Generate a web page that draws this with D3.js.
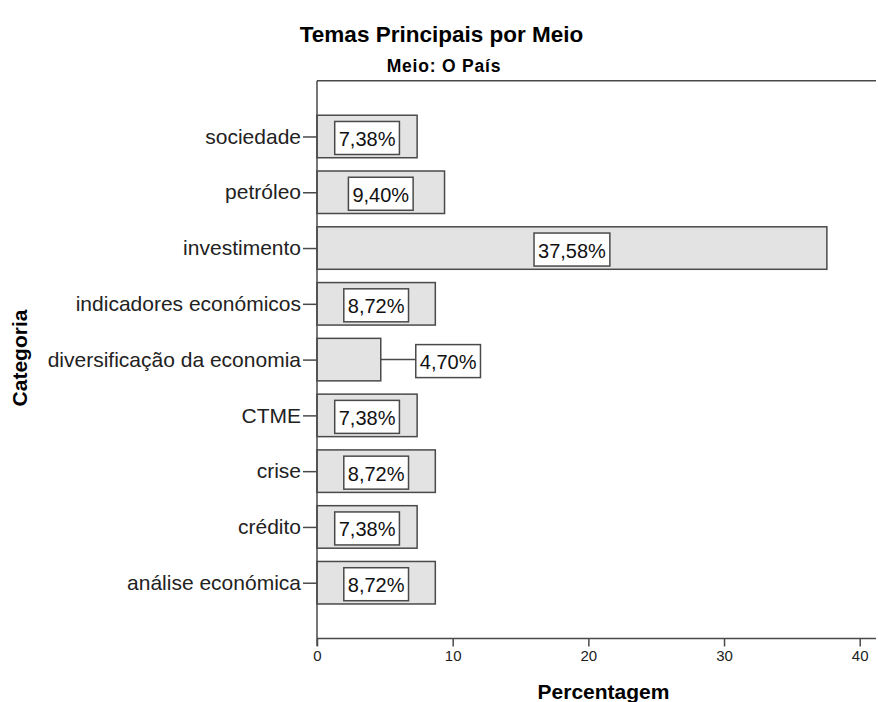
<!DOCTYPE html>
<html><head><meta charset="utf-8">
<script src="https://cdn.jsdelivr.net/npm/d3@7"></script>
<style>body{margin:0;background:#fff}svg{display:block}text{font-family:"Liberation Sans",Arial,sans-serif}</style>
</head><body><svg id="c" width="878" height="702"></svg>
<script>
const categories = ["sociedade","petróleo","investimento","indicadores económicos","diversificação da economia","CTME","crise","crédito","análise económica"];
const values = [7.38, 9.40, 37.58, 8.72, 4.70, 7.38, 8.72, 7.38, 8.72];
const xTicks = [0, 10, 20, 30, 40];
const title = "Temas Principais por Meio";
const subtitle = "Meio: O País";
const xTitle = "Percentagem";
const yTitle = "Categoria";

(function(){
const svg = d3.select("#c");
const pL = 317, pR = 876, pT = 80.7, pB = 638.5;
const x = d3.scaleLinear().domain([0, 41.2]).range([pL, pR]);
const y = d3.scalePoint().domain(categories).range([pT, pB]).padding(1);
const barH = 42.5;
const stroke = "#4a4a4a";

svg.append("text").attr("x", 441.5).attr("y", 41.5).attr("text-anchor","middle")
  .attr("font-size", 22.5).attr("font-weight","bold").attr("fill","#000").text(title);
svg.append("text").attr("x", 444).attr("y", 71.5).attr("text-anchor","middle")
  .attr("font-size", 17.5).attr("font-weight","bold").attr("fill","#000").attr("letter-spacing", 0.8).text(subtitle);

svg.append("line").attr("x1", pL).attr("x2", pR).attr("y1", pT).attr("y2", pT)
  .attr("stroke", stroke).attr("stroke-width", 1.5);

const g = svg.append("g");
categories.forEach((c, i) => {
  const cy = y(c), x0 = x(0), x1 = x(values[i]);
  g.append("rect").attr("x", x0).attr("y", cy - barH/2).attr("width", x1 - x0).attr("height", barH)
    .attr("fill", "#e3e3e3").attr("stroke", stroke).attr("stroke-width", 1.5);
});

const yAxis = d3.axisLeft(y).tickSize(14).tickPadding(2);
const ya = svg.append("g").attr("transform", `translate(${pL},0)`).call(yAxis);
ya.select(".domain").remove();
ya.selectAll(".tick line").attr("stroke", stroke).attr("stroke-width", 1.5);
ya.selectAll(".tick text").attr("font-size", 21).attr("fill", "#222")
  .attr("font-family", '"Liberation Sans",Arial,sans-serif');
svg.append("line").attr("x1", pL).attr("x2", pL).attr("y1", pT).attr("y2", 646)
  .attr("stroke", stroke).attr("stroke-width", 1.5);

const xAxis = d3.axisBottom(x).tickValues(xTicks).tickSize(8).tickPadding(4).tickFormat(d3.format("d"));
const xa = svg.append("g").attr("transform", `translate(0,${pB})`).call(xAxis);
xa.select(".domain").attr("d", `M${pL},0H${pR}`).attr("stroke", stroke).attr("stroke-width", 1.5);
xa.selectAll(".tick line").attr("stroke", stroke).attr("stroke-width", 1.5);
xa.selectAll(".tick text").attr("font-size", 15).attr("fill", "#222")
  .attr("font-family", '"Liberation Sans",Arial,sans-serif');

svg.append("text").attr("x", 603.5).attr("y", 699).attr("text-anchor","middle")
  .attr("font-size", 21).attr("font-weight","bold").attr("fill","#000").text(xTitle);
svg.append("text").attr("transform","translate(27,358) rotate(-90)").attr("text-anchor","middle")
  .attr("font-size", 21).attr("font-weight","bold").attr("fill","#000").text(yTitle);

const fmt = v => d3.format(".2f")(v).replace(".", ",") + "%";
const lg = svg.append("g");
categories.forEach((c, i) => {
  const cy = y(c) + 1.5, x0 = x(0), x1 = x(values[i]);
  const t = lg.append("text").attr("font-size", 20).attr("fill", "#111").attr("text-anchor","middle")
    .attr("dominant-baseline","central").text(fmt(values[i]));
  const w = t.node().getComputedTextLength() + 8, h = 33;
  let cx;
  if (w + 6 < x1 - x0) {
    cx = (x0 + x1) / 2;
  } else {
    const bx = x1 + 35;
    cx = bx + w / 2;
    lg.insert("line", "text").attr("x1", x1).attr("x2", bx).attr("y1", y(c)).attr("y2", y(c))
      .attr("stroke", stroke).attr("stroke-width", 1.5);
  }
  lg.insert("rect", "text").attr("x", cx - w/2).attr("y", cy - h/2).attr("width", w).attr("height", h)
    .attr("fill", "#fff").attr("stroke", stroke).attr("stroke-width", 1.5);
  t.attr("x", cx).attr("y", cy + 1);
});
})();
</script></body></html>
